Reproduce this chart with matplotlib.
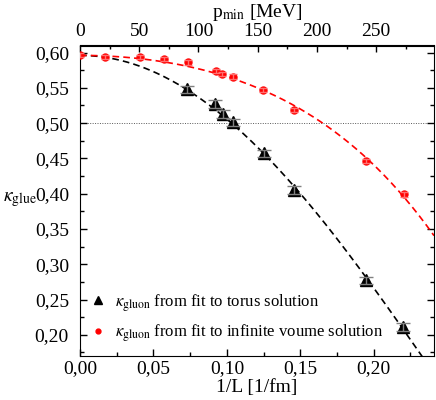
import numpy as np
import matplotlib
matplotlib.use('Agg')
import matplotlib.pyplot as plt
from matplotlib.ticker import MultipleLocator, FixedLocator, FuncFormatter

plt.rcParams['font.family'] = ['Liberation Serif', 'DejaVu Serif']
plt.rcParams['mathtext.fontset'] = 'stix'

# torus solution (black triangles)
x_torus = [0.0728, 0.0921, 0.0971, 0.1039, 0.1250, 0.1459, 0.1948, 0.2200]
k_torus = [0.548, 0.527, 0.513, 0.501, 0.457, 0.405, 0.277, 0.211]
e_torus = [0.0052, 0.0052, 0.0052, 0.0052, 0.0052, 0.0052, 0.0052, 0.0052]

# infinite volume solution (red circles)
x_inf = [0.0, 0.0170, 0.0409, 0.0575, 0.0734, 0.0925, 0.0970, 0.1040,
         0.1245, 0.1460, 0.1948, 0.2205]
k_inf = [0.596, 0.594, 0.5935, 0.591, 0.586, 0.574, 0.570, 0.566,
         0.5466, 0.519, 0.446, 0.399]
e_inf = [0.003, 0.003, 0.003, 0.003, 0.003, 0.003, 0.003, 0.003,
         0.003, 0.003, 0.003, 0.003]

# both fits share the kappa value at 1/L = 0
k0 = k_inf[0]

# 1/L [1/fm] -> p_min = 2 pi hbar c / L [MeV]
hbarc = 197.327
conv = 2 * np.pi * hbarc

fig = plt.figure(figsize=(4.36, 4.0), dpi=100)
ax = fig.add_axes([80 / 436, 1 - 356 / 400, 354 / 436, 310.5 / 400])

xmax = 0.241
ax.set_xlim(0, xmax)
ax.set_ylim(0.17, 0.61)

# fits kappa = k0 + b x^2 + c x^4
xx = np.linspace(0, xmax, 300)
for xs, ys, col in [(x_torus, k_torus, 'black'), (x_inf, k_inf, 'red')]:
    xs = np.array(xs)
    A = np.column_stack([xs ** 2, xs ** 4])
    b, c = np.linalg.lstsq(A, np.array(ys) - k0, rcond=None)[0]
    ax.plot(xx, k0 + b * xx ** 2 + c * xx ** 4, ls=(0, (4, 2.5)), color=col,
            lw=1.2, zorder=2)

ax.axhline(0.50, color='0.35', ls=(0, (1, 1.5)), lw=0.7, zorder=1)

ax.plot(x_torus, k_torus, '^', color='black', ms=8, zorder=3,
        label=r'$\kappa_{\rm gluon}$ from fit to torus solution')
ax.errorbar(x_torus, k_torus, yerr=e_torus, fmt='none', ecolor='0.5',
            capsize=4.7, elinewidth=1, capthick=1, zorder=4)
ax.plot(x_inf, k_inf, 'o', color='red', ms=5, zorder=3,
        label=r'$\kappa_{\rm gluon}$ from fit to infinite voume solution')
ax.errorbar(x_inf, k_inf, yerr=e_inf, fmt='none', ecolor='#ff7070',
            capsize=3, elinewidth=1, capthick=1, zorder=4)

comma = FuncFormatter(lambda v, pos: ('%.2f' % v).replace('.', ','))
ax.xaxis.set_major_locator(MultipleLocator(0.05))
ax.xaxis.set_minor_locator(MultipleLocator(0.025))
ax.yaxis.set_major_locator(MultipleLocator(0.05))
ax.yaxis.set_minor_locator(MultipleLocator(0.025))
ax.xaxis.set_major_formatter(comma)
ax.yaxis.set_major_formatter(comma)
ax.tick_params(which='both', direction='in', right=True, labelsize=14)
ax.tick_params(which='major', length=5, width=1)
ax.tick_params(which='minor', length=3, width=1)
ax.tick_params(axis='y', pad=8)
ax.tick_params(axis='x', pad=3)

top = ax.secondary_xaxis('top', functions=(lambda x: x * conv, lambda p: p / conv))
top.xaxis.set_major_locator(FixedLocator([0, 50, 100, 150, 200, 250]))
top.xaxis.set_minor_locator(FixedLocator([25, 75, 125, 175, 225, 275]))
top.tick_params(which='both', direction='in', labelsize=14, pad=4)
top.tick_params(which='major', length=5, width=1)
top.tick_params(which='minor', length=3, width=1)
top.set_xlabel(r'p$_{\rm min}$ [MeV]', fontsize=14, labelpad=4)

ax.set_xlabel('1/L [1/fm]', fontsize=14, labelpad=1)
fig.text(3 / 436, 1 - 200 / 400, r'$\kappa_{\rm glue}$', fontsize=14,
         ha='left', va='center')

ax.legend(loc='lower left', frameon=False, fontsize=12, markerscale=0.7,
          handlelength=0.8, handletextpad=0.6, borderaxespad=0.4,
          borderpad=0.3, labelspacing=0.55, bbox_to_anchor=(0.0, 0.0))

fig.savefig('out.png', dpi=100)
